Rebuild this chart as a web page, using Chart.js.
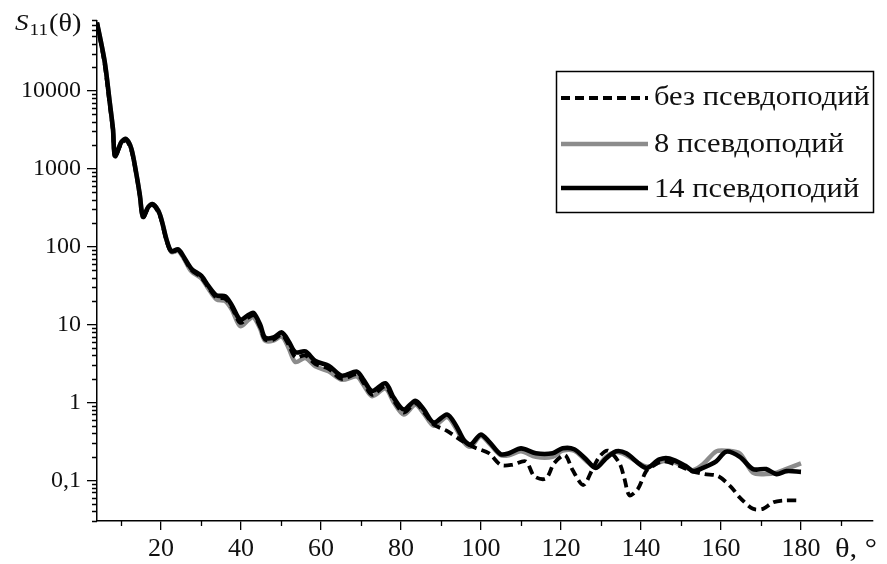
<!DOCTYPE html>
<html>
<head>
<meta charset="utf-8">
<script src="https://cdn.jsdelivr.net/npm/chart.js@4.4.1/dist/chart.umd.min.js"></script>
<style>
  html, body { margin: 0; padding: 0; background: #fff; }
  #wrap { width: 887px; height: 564px; }
</style>
</head>
<body>
<div id="wrap"><canvas id="c" width="887" height="564"></canvas></div>
<script>
// Scattering indicatrix S11(θ) for a particle with and without pseudopodia

// angles for the "14" and "8" curves (degrees)
const anglesMain = [4, 5.9, 7.2, 8.0, 8.5, 10.1, 11.3, 12.6, 13.9, 14.7, 15.5, 16.8, 18.0, 19.7, 21.4, 22.6, 24.3, 25.6, 27.6, 30.1,
  31.8, 33.9, 36.0, 37.7, 39.8, 41.9, 43.1, 44.8, 46.0, 48.1, 50.2, 51.9, 53.6, 56.1, 58.6, 61.9, 65.2, 69.0, 70.7, 72.8,
  76.1, 78.2, 80.7, 83.6, 85.7, 88.2, 91.5, 93.7, 95.7, 97.4, 99.9, 102, 104.9, 107, 110, 113.7, 117.9, 120.4, 123.3, 126.2,
  128.7, 131.3, 133.8, 136.3, 141.3, 144.6, 147.1, 151.3, 153, 155.5, 158.8, 161.3, 164.7, 168, 171.3, 173.9, 176.4, 180];

// 14 pseudopodia
const s14 = [75000, 24000, 7000, 3200, 1450, 2200, 2400, 1800, 820, 460, 240, 320, 350, 260, 122, 87, 92, 75, 52, 42,
  31.5, 23.6, 23, 17.7, 11.5, 13.3, 14.1, 9.9, 6.8, 6.8, 7.9, 6.1, 4.4, 4.5, 3.4, 2.96, 2.2, 2.48, 1.92, 1.4,
  1.76, 1.14, 0.81, 1.05, 0.81, 0.55, 0.7, 0.51, 0.33, 0.288, 0.385, 0.314, 0.216, 0.222, 0.257, 0.222, 0.222, 0.257, 0.25, 0.187,
  0.144, 0.192, 0.236, 0.222, 0.144, 0.185, 0.19, 0.151, 0.131, 0.144, 0.175, 0.233, 0.2, 0.139, 0.139, 0.12, 0.131, 0.128];

// 8 pseudopodia
const s8 = [75000, 24000, 7000, 3200, 1450, 2200, 2400, 1800, 820, 460, 240, 320, 350, 260, 120, 85, 88, 72, 48, 39,
  29, 21, 20, 15.5, 9.5, 11.5, 12.5, 8.8, 6.2, 6.2, 7.0, 5.0, 3.3, 3.7, 2.9, 2.5, 1.95, 2.15, 1.65, 1.2,
  1.5, 1.0, 0.7, 0.93, 0.72, 0.5, 0.65, 0.47, 0.31, 0.27, 0.37, 0.3, 0.21, 0.21, 0.235, 0.2, 0.2, 0.24, 0.24, 0.18,
  0.145, 0.2, 0.23, 0.21, 0.15, 0.17, 0.18, 0.145, 0.135, 0.16, 0.235, 0.24, 0.22, 0.125, 0.12, 0.125, 0.14, 0.165];

// without pseudopodia
const anglesBare = [4, 5.9, 7.2, 8.0, 8.5, 10.1, 11.3, 12.6, 13.9, 14.7, 15.5, 16.8, 18.0, 19.7, 21.4, 22.6, 24.3, 25.6, 27.6, 30.1,
  31.8, 33.9, 36.0, 37.7, 39.8, 41.9, 43.1, 44.8, 46.0, 48.1, 50.2, 51.9, 53.6, 56.1, 58.6, 61.9, 65.2, 69.0, 70.7, 72.8,
  76.1, 78.2, 80.7, 83.6, 85.7, 88.2, 91.5, 95.7, 98.7, 102, 104.9, 107.8, 111.2, 113.3, 116.2, 118.3, 121, 122.9, 125.6, 127.9,
  129.6, 131.7, 134.6, 135.8, 137.1, 139.2, 141.3, 143, 145.4, 149.6, 152.6, 155.9, 159.3, 162.6, 164.7, 168, 170.5, 173, 175.5, 180];
const sBare = [75000, 22000, 6500, 3000, 1400, 2100, 2300, 1700, 800, 450, 235, 310, 340, 250, 118, 85, 90, 73, 50, 40,
  30, 22, 21.5, 16.5, 10.5, 12.3, 13.2, 9.2, 6.4, 6.4, 7.4, 5.5, 3.8, 4.0, 3.1, 2.7, 2.0, 2.3, 1.75, 1.25,
  1.6, 1.05, 0.74, 0.97, 0.75, 0.52, 0.43, 0.31, 0.26, 0.222, 0.158, 0.158, 0.175, 0.113, 0.105, 0.166, 0.21, 0.135, 0.087, 0.14,
  0.2, 0.24, 0.166, 0.108, 0.064, 0.077, 0.131, 0.153, 0.175, 0.153, 0.131, 0.12, 0.113, 0.081, 0.06, 0.043, 0.043, 0.052, 0.055, 0.055];

const seriesNames = ['без псевдоподий', '8 псевдоподий', '14 псевдоподий'];
const yTickValues = [0.1, 1, 10, 100, 1000, 10000];
const xTickValues = [20, 40, 60, 80, 100, 120, 140, 160, 180];
const xMinorValues = [10, 30, 50, 70, 90, 110, 130, 150, 170, 190];

const toPoints = (xs, ys) => xs.map((x, i) => ({ x: x, y: ys[i] }));
const SERIF = '"Liberation Serif", "Times New Roman", serif';
const STRETCH = 1.13;

// text drawn slightly widened, as in the typeset figure
function wideText(ctx, text, x, y) {
  ctx.save();
  ctx.translate(x, y);
  ctx.scale(STRETCH, 1);
  ctx.fillText(text, 0, 0);
  ctx.restore();
  return ctx.measureText(text).width * STRETCH;
}

// axis decorations: minor ticks, axis labels and the framed legend
const decor = {
  id: 'decor',
  afterDraw(chart) {
    const ctx = chart.ctx;
    const xs = chart.scales.x, ys = chart.scales.y;
    const area = chart.chartArea;
    ctx.save();
    ctx.strokeStyle = '#000';
    ctx.lineWidth = 1.3;
    // minor ticks on the log axis
    ctx.beginPath();
    for (let e = -2; e <= 4; e++) {
      for (let k = 2; k <= 9; k++) {
        const v = k * Math.pow(10, e);
        if (v < ys.min || v > ys.max) continue;
        const py = Math.round(ys.getPixelForValue(v)) + 0.5;
        ctx.moveTo(area.left - 5, py);
        ctx.lineTo(area.left, py);
      }
    }
    // minor ticks on the angle axis
    xMinorValues.forEach(v => {
      if (v < xs.min || v > xs.max) return;
      const px = Math.round(xs.getPixelForValue(v)) + 0.5;
      ctx.moveTo(px, area.bottom);
      ctx.lineTo(px, area.bottom + 5);
    });
    ctx.stroke();

    // axis names
    ctx.fillStyle = '#111';
    ctx.textBaseline = 'alphabetic';
    ctx.textAlign = 'left';
    ctx.font = 'italic 24px ' + SERIF;
    let x = 15 + wideText(ctx, 'S', 15, 30) + 1;
    ctx.font = '17px ' + SERIF;
    x += wideText(ctx, '11', x, 35) + 1;
    ctx.font = '25px ' + SERIF;
    wideText(ctx, '(θ)', x, 31);

    ctx.font = '27px ' + SERIF;
    wideText(ctx, 'θ, °', 835, 557);

    // legend
    const box = { l: 556, t: 71, r: 873, b: 212 };
    ctx.lineWidth = 1.5;
    ctx.strokeRect(box.l + 0.5, box.t + 0.5, box.r - box.l, box.b - box.t);
    const rows = [
      { ds: 0, lineY: 98, textY: 105 },
      { ds: 1, lineY: 144, textY: 152 },
      { ds: 2, lineY: 188, textY: 197 }
    ];
    rows.forEach(r => {
      const d = chart.data.datasets[r.ds];
      ctx.save();
      ctx.strokeStyle = d.borderColor;
      ctx.lineWidth = d.borderWidth;
      ctx.setLineDash(d.borderDash || []);
      ctx.beginPath();
      ctx.moveTo(561, r.lineY);
      ctx.lineTo(648, r.lineY);
      ctx.stroke();
      ctx.restore();
      ctx.fillStyle = '#111';
      ctx.font = '27px ' + SERIF;
      wideText(ctx, d.label, 654, r.textY);
    });
    ctx.restore();
  }
};

const whiteBg = {
  id: 'whiteBg',
  beforeDraw(chart) {
    const ctx = chart.ctx;
    ctx.save();
    ctx.fillStyle = '#fff';
    ctx.fillRect(0, 0, chart.width, chart.height);
    ctx.restore();
  }
};

new Chart(document.getElementById('c'), {
  type: 'line',
  data: {
    datasets: [
      {
        label: seriesNames[0],
        data: toPoints(anglesBare, sBare),
        borderColor: '#000',
        borderWidth: 3.8,
        borderDash: [9, 5],
        order: 1
      },
      {
        label: seriesNames[1],
        data: toPoints(anglesMain, s8),
        borderColor: '#8c8c8c',
        borderWidth: 4.5,
        order: 2
      },
      {
        label: seriesNames[2],
        data: toPoints(anglesMain, s14),
        borderColor: '#000',
        borderWidth: 4.6,
        order: 0
      }
    ]
  },
  options: {
    responsive: false,
    animation: false,
    devicePixelRatio: 1,
    layout: { padding: { top: 8, right: 14, left: 0, bottom: 0 } },
    elements: {
      point: { radius: 0, hoverRadius: 0 },
      line: { tension: 0.3, borderCapStyle: 'butt', borderJoinStyle: 'round' }
    },
    plugins: {
      legend: { display: false },
      tooltip: { enabled: false }
    },
    scales: {
      x: {
        type: 'linear',
        min: 4,
        max: 198,
        afterFit(scale) { scale.height = 43; },
        afterBuildTicks(scale) { scale.ticks = xTickValues.map(v => ({ value: v })); },
        grid: { drawOnChartArea: false, tickLength: 9, color: '#000', lineWidth: 1.3 },
        border: { display: true, color: '#000', width: 1.5 },
        ticks: {
          color: '#111',
          padding: 4,
          maxRotation: 0,
          autoSkip: false,
          font: { family: SERIF, size: 26 }
        }
      },
      y: {
        type: 'logarithmic',
        min: 0.03,
        max: 80000,
        afterFit(scale) { scale.width = 97; },
        afterBuildTicks(scale) { scale.ticks = yTickValues.map(v => ({ value: v })); },
        grid: { drawOnChartArea: false, tickLength: 10, color: '#000', lineWidth: 1.3 },
        border: { display: true, color: '#000', width: 1.5 },
        ticks: {
          color: '#111',
          padding: 6,
          autoSkip: false,
          font: { family: SERIF, size: 24 },
          callback: v => (v === 0.1 ? '0,1' : String(v))
        }
      }
    }
  },
  plugins: [whiteBg, decor]
});
</script>
</body>
</html>
